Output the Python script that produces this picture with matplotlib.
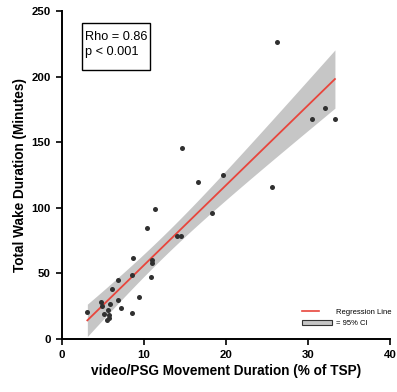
import numpy as np
import matplotlib.pyplot as plt
from matplotlib.patches import Patch, Rectangle
from matplotlib.lines import Line2D
from matplotlib.legend_handler import HandlerLine2D

plt.rcParams['font.family'] = ['Liberation Sans', 'DejaVu Sans']

# Data
movement_pct = np.array([3.1, 4.8, 4.9, 5.1, 5.6, 5.9, 5.8, 5.7, 5.5, 6.1,
                         6.9, 6.8, 7.2, 8.5, 9.4, 8.6, 8.7, 10.9, 11.0, 11.0,
                         10.4, 11.4, 14.0, 14.5, 18.3, 16.6, 14.7, 19.7, 25.6, 26.2,
                         30.5, 32.1, 33.3])
wake_min = np.array([21, 28.5, 25, 19, 22.5, 26.6, 18, 16, 14.3, 38.5,
                     45, 30, 23.8, 19.7, 32, 49, 62, 47.5, 60, 58,
                     84.5, 99, 78.5, 78.5, 96, 120, 145.5, 125, 115.5, 226,
                     168, 176, 168])

x_ticks = [0, 10, 20, 30, 40]
y_ticks = [0, 50, 100, 150, 200, 250]

# Linear fit with 95% CI of the mean
n = len(movement_pct)
slope, intercept = np.polyfit(movement_pct, wake_min, 1)
xs = np.linspace(movement_pct.min(), movement_pct.max(), 200)
ys = intercept + slope * xs
resid = wake_min - (intercept + slope * movement_pct)
s_err = np.sqrt(np.sum(resid ** 2) / (n - 2))
x_mean = movement_pct.mean()
sxx = np.sum((movement_pct - x_mean) ** 2)
t_val = 2.04
ci = t_val * s_err * np.sqrt(1 / n + (xs - x_mean) ** 2 / sxx)


class ShortLine(HandlerLine2D):
    # line handle drawn over the left part of the handle box only
    def create_artists(self, legend, orig_handle, xdescent, ydescent,
                       width, height, fontsize, trans):
        y = height / 2 - ydescent
        line = Line2D([-xdescent, -xdescent + width * 0.58], [y, y],
                      color=orig_handle.get_color(), lw=orig_handle.get_linewidth())
        line.set_transform(trans)
        return [line]


fig = plt.figure(figsize=(3.97, 3.92), dpi=100)
ax = fig.add_axes([0.156, 0.135, 0.826, 0.837])

ax.fill_between(xs, ys - ci, ys + ci, color='#c6c6c6', lw=0, zorder=1)
ax.plot(xs, ys, color='#e8453c', lw=1.3, zorder=2)
ax.scatter(movement_pct, wake_min, s=13, color='#303030', zorder=3, linewidths=0)

ax.set_xlim(0, 40)
ax.set_ylim(0, 250)
ax.set_xticks(x_ticks)
ax.set_yticks(y_ticks)
ax.tick_params(labelsize=8.2, width=1.2, length=4.5, direction='out')
for lab in ax.get_xticklabels() + ax.get_yticklabels():
    lab.set_fontweight('bold')
for side in ['top', 'right']:
    ax.spines[side].set_visible(False)
for side in ['left', 'bottom']:
    ax.spines[side].set_linewidth(1.4)

ax.set_xlabel('video/PSG Movement Duration (% of TSP)', fontsize=9.8, fontweight='bold',
              labelpad=3)
ax.set_ylabel('Total Wake Duration (Minutes)', fontsize=9.8, fontweight='bold', labelpad=3)

# stats box
ax.add_patch(Rectangle((0.061, 0.820), 0.207, 0.143, transform=ax.transAxes,
                       facecolor='white', edgecolor='black', lw=1, zorder=4))
ax.text(0.069, 0.940, 'Rho = 0.86\np < 0.001', transform=ax.transAxes, fontsize=9.2,
        va='top', ha='left', linespacing=1.35, zorder=5)

handles = [Line2D([0], [0], color='#e8453c', lw=1.2),
           Patch(facecolor='#c6c6c6', edgecolor='#333333', lw=0.8)]
ax.legend(handles, ['Regression Line', '= 95% CI'], loc='lower left', frameon=False,
          fontsize=5.5, bbox_to_anchor=(0.71, 0.015), handlelength=4.0, handletextpad=0.5,
          labelspacing=0.55, handler_map={Line2D: ShortLine()})

fig.savefig('out.png', dpi=100)
